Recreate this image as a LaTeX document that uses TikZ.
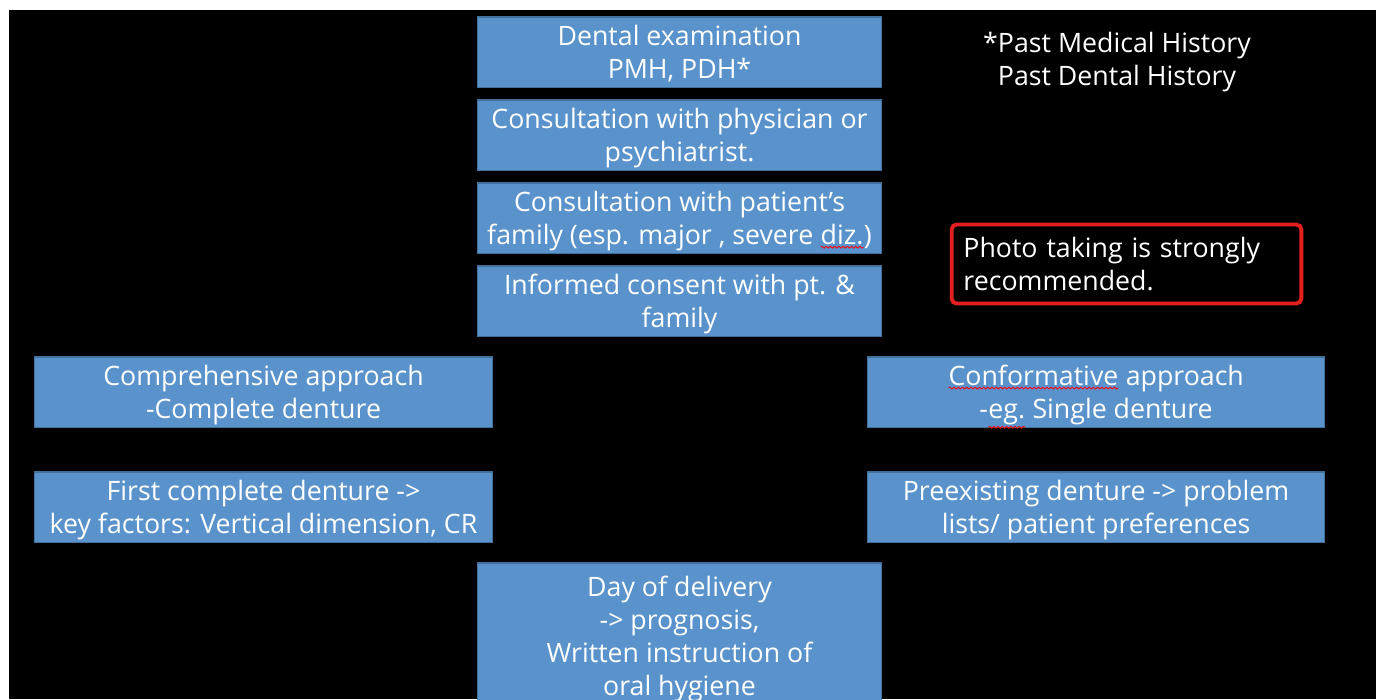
\documentclass[tikz,border=0pt]{standalone}
\usepackage{fontspec}
\setmainfont{Open Sans}
\usepackage{tikz}
\usetikzlibrary{decorations.pathmorphing}
\definecolor{boxBlue}{HTML}{5A93CB}
\definecolor{boxEdge}{HTML}{41719C}
\definecolor{noteRed}{HTML}{E3201E}
\newcommand{\spellmark}[1]{\tikz[baseline=(sw.base), x=1cm, y=1cm]{\node (sw) [shape=rectangle, draw=none, fill=none,
	minimum width=0pt, minimum height=0pt, text width=, text depth=, inner sep=0pt, outer sep=0pt] {#1};
	\draw [red, line width=0.25pt, decorate, decoration={snake, amplitude=0.25pt, segment length=1.2pt}]
	([yshift=-0.6pt]sw.south west) -- ([yshift=-0.6pt]sw.south east);}}

\begin{document}
\begin{tikzpicture}[x=0.01cm, y=-0.01cm]
\tikzstyle{stepNode} =
[
	shape			= rectangle,		% shape
	minimum width	= 4.03cm,			% | size of the box
	minimum height	= 0.70cm,			% |
	draw			= boxEdge,			% colour of the border
	line width		= 0.3pt,			% thickness of the border
	fill			= boxBlue,			% filling colour
	text			= white,			% text colour
	align			= center,			% centred lines
	font			= \fontsize{7.6}{9.4}\selectfont,	% used font
	text depth		= 0pt,				% same text position in every box
	inner sep		= 0pt				% no extra padding
]
\tikzstyle{wideNode} = [stepNode, minimum width = 4.57cm]
% page: white strip at top and left, black slide
\useasboundingbox (0,0) rectangle (1376,699);
\clip (0,0) rectangle (1376,699);
\fill[white] (0,0) rectangle (1376,699);
\fill[black] (9,10) rectangle (1376,699);
% central column
\node (exam) [stepNode] at (679.5,52) {Dental examination\\PMH, PDH*};
\node (physician) [stepNode] at (679.5,135) {Consultation with physician or\\psychiatrist.};
\node (family) [stepNode] at (679.5,218) {Consultation with patient’s\\family (esp. major , severe \spellmark{diz.})};
\node (consent) [stepNode] at (679.5,301) {Informed consent with pt. \&\\family};
% two approaches
\node (comprehensive) [wideNode] at (263.5,392) {Comprehensive approach\\-Complete denture};
\node (conformative) [wideNode, minimum width = 4.56cm] at (1096,392) {\spellmark{Conformative} approach\\-\spellmark{eg.} Single denture};
\node (firstDenture) [wideNode] at (263.5,507) {First complete denture ->\\key factors: Vertical dimension, CR};
\node (preexisting) [wideNode, minimum width = 4.56cm] at (1096,507) {Preexisting denture -> problem\\lists/ patient preferences};
% delivery, cut by the slide edge
\node (delivery) [stepNode, minimum height = 1.46cm] at (679.5,636) {Day of delivery\\-> prognosis,\\Written instruction of\\oral hygiene};
% side notes
\node (history) [text = white, align = center, font = \fontsize{7.6}{9.6}\selectfont] at (1117,62) {*Past Medical History\\Past Dental History};
\node (photo) [draw = noteRed, line width = 1.1pt, rounded corners = 0.05cm, minimum width = 3.43cm, minimum height = 0.79cm,
	text = white, text width = 3.26cm, align = left, font = \fontsize{7.6}{9.4}\selectfont] at (1126.5,264)
	{Photo taking is strongly\\recommended.};
\end{tikzpicture}
\end{document}
